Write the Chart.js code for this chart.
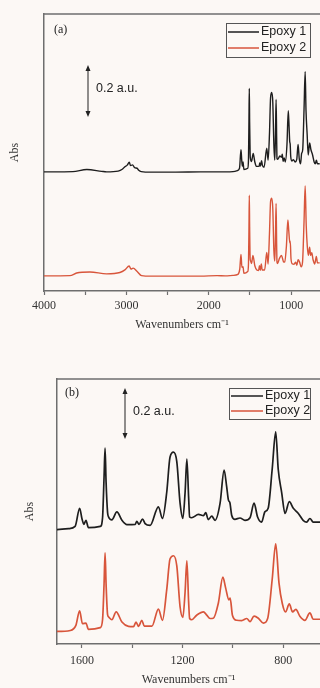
<!DOCTYPE html>
<html>
<head>
<meta charset="utf-8">
<script src="https://cdn.jsdelivr.net/npm/chart.js@4.4.0/dist/chart.umd.min.js"></script>
<style>
  body { margin: 0; background: #fcf8f5; }
  canvas { position: absolute; left: 0; }
  #specA { top: 0; }
  #specB { top: 340px; }
</style>
</head>
<body>
<canvas id="specA" width="320" height="340"></canvas>
<canvas id="specB" width="320" height="348"></canvas>
<script>
// FTIR spectra (stacked, Epoxy 1 offset above Epoxy 2)
const seriesNames = ['Epoxy 1', 'Epoxy 2'];
const lineColors = ['#1e1e1e', '#d8553b'];

const wn1 = [4000, 3900, 3650, 3480, 3300, 3240, 3100, 3050, 3018, 2990, 2965, 2950, 2925, 2900, 2870, 2850, 2820, 2700, 2400, 2100, 1900, 1800, 1706,
  1653, 1627, 1609, 1600, 1592, 1584, 1574, 1527, 1518, 1512, 1508, 1504, 1498, 1494, 1481, 1461, 1441, 1421, 1388, 1382, 1373, 1359, 1349, 1329,
  1296, 1280, 1263, 1250, 1236, 1223, 1210, 1199, 1190, 1183, 1176, 1172, 1164, 1137, 1117, 1108, 1098, 1084, 1071, 1051, 1035, 1025, 1018, 1012,
  1005, 992, 972, 952, 932, 916, 902, 886, 873, 860, 844, 830, 820, 806, 793, 776, 760, 740, 721, 707, 694, 681, 654];
const abs1 = [0.452, 0.452, 0.453, 0.461, 0.454, 0.452, 0.455, 0.462, 0.472, 0.478, 0.489, 0.476, 0.479, 0.468, 0.466, 0.458, 0.453, 0.451, 0.451, 0.452, 0.452, 0.452, 0.453,
  0.457, 0.466, 0.537, 0.497, 0.474, 0.490, 0.461, 0.466, 0.500, 0.660, 0.773, 0.640, 0.520, 0.503, 0.492, 0.523, 0.490, 0.473, 0.474, 0.486, 0.474, 0.495, 0.477, 0.470,
  0.543, 0.497, 0.600, 0.737, 0.757, 0.720, 0.557, 0.497, 0.600, 0.730, 0.580, 0.503, 0.500, 0.513, 0.508, 0.520, 0.493, 0.506, 0.490, 0.557, 0.687, 0.623, 0.570, 0.559,
  0.510, 0.494, 0.499, 0.490, 0.500, 0.557, 0.503, 0.483, 0.523, 0.537, 0.690, 0.837, 0.690, 0.597, 0.517, 0.563, 0.537, 0.517, 0.490, 0.483, 0.497, 0.483, 0.483];

const wn2 = [4000, 3685, 3604, 3442, 3240, 3079, 3018, 2966, 2945, 2918, 2869, 2816, 2700, 2400, 2100, 1900, 1800, 1706,
  1646, 1624, 1609, 1598, 1584, 1574, 1527, 1518, 1512, 1508, 1504, 1498, 1494, 1481, 1464, 1441, 1415, 1395, 1385, 1375, 1362, 1352, 1322,
  1296, 1280, 1263, 1250, 1236, 1223, 1210, 1199, 1190, 1183, 1176, 1172, 1164, 1144, 1117, 1104, 1091, 1078, 1058, 1040, 1029, 1016, 1011,
  1002, 985, 965, 945, 932, 916, 899, 879, 862, 844, 830, 817, 804, 791, 776, 763, 750, 734, 714, 694, 681, 654];
const abs2 = [0.052, 0.053, 0.063, 0.067, 0.060, 0.065, 0.075, 0.090, 0.078, 0.082, 0.069, 0.053, 0.051, 0.051, 0.051, 0.053, 0.052, 0.054,
  0.058, 0.078, 0.135, 0.085, 0.087, 0.062, 0.069, 0.100, 0.240, 0.362, 0.240, 0.120, 0.111, 0.100, 0.131, 0.091, 0.074, 0.073, 0.091, 0.074, 0.098, 0.075, 0.075,
  0.142, 0.098, 0.218, 0.338, 0.351, 0.311, 0.151, 0.109, 0.210, 0.331, 0.170, 0.105, 0.100, 0.118, 0.131, 0.118, 0.105, 0.106, 0.165, 0.267, 0.225, 0.178, 0.185,
  0.118, 0.098, 0.097, 0.105, 0.093, 0.114, 0.106, 0.087, 0.105, 0.258, 0.398, 0.245, 0.165, 0.131, 0.162, 0.131, 0.141, 0.114, 0.098, 0.127, 0.102, 0.102];

const ticksA = [4000, 3500, 3000, 2500, 2000, 1500, 1000];
const labelsA = [4000, 3000, 2000, 1000];
const ticksB = [1600, 1400, 1200, 1000, 800];
const labelsB = [1600, 1200, 800];
const scaleBar = 0.2;

const bg = '#fcf8f5';
const axisColor = '#6e6e6e';

function notesPlugin(n) {
    return {
        id: 'notes',
        afterDraw(chart) {
            const { ctx, chartArea: a, scales: { y } } = chart;
            ctx.save();
            // top frame line
            ctx.strokeStyle = axisColor;
            ctx.lineWidth = 1.5;
            ctx.beginPath();
            ctx.moveTo(a.left, a.top);
            ctx.lineTo(a.right, a.top);
            ctx.stroke();

            // panel letter
            ctx.fillStyle = '#222';
            ctx.textBaseline = 'middle';
            ctx.font = '12px "Liberation Serif"';
            ctx.fillText(n.letter, n.letterX, n.letterY);

            // 0.2 a.u. scale bar
            const len = y.getPixelForValue(0) - y.getPixelForValue(scaleBar);
            const x0 = n.barX, y0 = n.barY, y1 = n.barY + len;
            ctx.strokeStyle = '#222';
            ctx.lineWidth = 1;
            ctx.beginPath();
            ctx.moveTo(x0, y0 + 3);
            ctx.lineTo(x0, y1 - 3);
            ctx.stroke();
            ctx.beginPath();
            ctx.moveTo(x0, y0); ctx.lineTo(x0 - 2.5, y0 + 6); ctx.lineTo(x0 + 2.5, y0 + 6); ctx.closePath();
            ctx.moveTo(x0, y1); ctx.lineTo(x0 - 2.5, y1 - 6); ctx.lineTo(x0 + 2.5, y1 - 6); ctx.closePath();
            ctx.fill();
            ctx.font = '12.5px "Liberation Sans"';
            ctx.fillText(scaleBar + ' a.u.', x0 + 8, (y0 + y1) / 2 - 2);

            // legend box
            const L = n.legend;
            ctx.fillStyle = bg;
            ctx.fillRect(L.x, L.y, L.w, L.h);
            ctx.strokeStyle = '#555';
            ctx.lineWidth = 1;
            ctx.strokeRect(L.x + 0.5, L.y + 0.5, L.w, L.h);
            seriesNames.forEach((name, i) => {
                const ry = L.y + L.row0 + i * L.step;
                ctx.strokeStyle = lineColors[i];
                ctx.lineWidth = 1.5;
                ctx.beginPath();
                ctx.moveTo(L.x + 2, ry);
                ctx.lineTo(L.x + L.lineLen, ry);
                ctx.stroke();
                ctx.fillStyle = '#222';
                ctx.fillText(name, L.x + L.lineLen + 2, ry);
            });
            ctx.restore();
        }
    };
}

function makeChart(id, cfg) {
    const tickList = cfg.ticks;
    const labelled = cfg.labels;
    return new Chart(document.getElementById(id), {
        type: 'line',
        data: {
            datasets: [
                { label: seriesNames[0], data: wn1.map((w, i) => ({ x: w, y: abs1[i] })), borderColor: lineColors[0] },
                { label: seriesNames[1], data: wn2.map((w, i) => ({ x: w, y: abs2[i] })), borderColor: lineColors[1] }
            ]
        },
        options: {
            responsive: false,
            animation: false,
            layout: { padding: { top: cfg.padTop, left: 0, right: 0, bottom: 0 } },
            plugins: { legend: { display: false }, tooltip: { enabled: false } },
            elements: {
                point: { radius: 0 },
                line: { borderWidth: cfg.lw, cubicInterpolationMode: 'monotone', fill: false }
            },
            scales: {
                x: {
                    type: 'linear',
                    reverse: true,
                    min: cfg.xMin,
                    max: cfg.xMax,
                    afterFit: s => { s.height = cfg.xH; },
                    afterBuildTicks: s => { s.ticks = tickList.map(v => ({ value: v })); },
                    ticks: {
                        autoSkip: false,
                        maxRotation: 0,
                        padding: cfg.tickPad,
                        color: '#333',
                        font: { family: '"Liberation Serif"', size: 12 },
                        callback: v => labelled.includes(v) ? String(v) : ''
                    },
                    grid: { drawOnChartArea: false, drawTicks: true, tickLength: 4, tickColor: axisColor, tickWidth: 1.2 },
                    border: { display: true, color: axisColor, width: 1.5 },
                    title: {
                        display: true,
                        text: 'Wavenumbers cm⁻¹',
                        color: '#333',
                        font: { family: '"Liberation Serif"', size: 12 },
                        padding: { top: cfg.xTitlePad, bottom: cfg.xTitlePad }
                    }
                },
                y: {
                    min: cfg.yMin,
                    max: cfg.yMax,
                    afterFit: s => { s.width = cfg.yW; },
                    ticks: { display: false },
                    grid: { display: false },
                    border: { display: true, color: axisColor, width: 1.5 },
                    title: {
                        display: true,
                        text: 'Abs',
                        color: '#333',
                        font: { family: '"Liberation Serif"', size: 12 },
                        padding: { top: cfg.yTitlePad, bottom: cfg.yTitlePad }
                    }
                }
            }
        },
        plugins: [notesPlugin(cfg.notes)]
    });
}

// (a) full range
makeChart('specA', {
    xMin: 650, xMax: 4000, yMin: -0.006, yMax: 1.059,
    ticks: ticksA, labels: labelsA,
    padTop: 14, xH: 49, yW: 44, lw: 1.4, tickPad: 4,
    xTitlePad: 8.3, yTitlePad: 7.8,
    notes: {
        letter: '(a)', letterX: 54, letterY: 30,
        barX: 88, barY: 65,
        legend: { x: 226, y: 23, w: 84, h: 34, row0: 9, step: 16, lineLen: 33 }
    }
});

// (b) fingerprint region
makeChart('specB', {
    xMin: 654, xMax: 1699, yMin: 0.005, yMax: 1.044,
    ticks: ticksB, labels: labelsB,
    padTop: 39, xH: 44, yW: 57, lw: 1.7, tickPad: 5.5,
    xTitlePad: 1, yTitlePad: 22.8,
    notes: {
        letter: '(b)', letterX: 65, letterY: 53,
        barX: 125, barY: 48,
        legend: { x: 229, y: 48, w: 81, h: 31, row0: 8, step: 15, lineLen: 34 }
    }
});
</script>
</body>
</html>
